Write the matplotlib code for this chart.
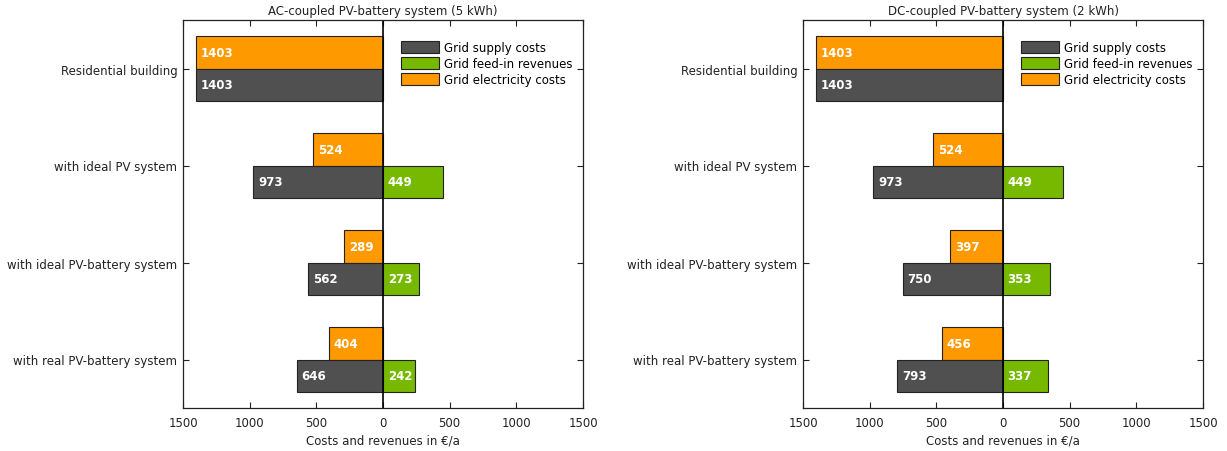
import matplotlib
matplotlib.use("Agg")
import matplotlib.pyplot as plt
from matplotlib.ticker import FuncFormatter
import numpy as np

plt.rcParams['font.family'] = ['DejaVu Sans']
plt.rcParams['font.size'] = 8.5

# Cell
categories = ["Residential building", "with ideal PV system",
              "with ideal PV-battery system", "with real PV-battery system"]
titles = ["AC-coupled PV-battery system (5 kWh)", "DC-coupled PV-battery system (2 kWh)"]
series_names = ["Grid supply costs", "Grid feed-in revenues", "Grid electricity costs"]

ac_supply = [1403, 973, 562, 646]
ac_feedin = [0, 449, 273, 242]
ac_costs = [1403, 524, 289, 404]

dc_supply = [1403, 973, 750, 793]
dc_feedin = [0, 449, 353, 337]
dc_costs = [1403, 524, 397, 456]

COLORS = ["#505050", "#76b900", "#ff9900"]
H = 0.33


def draw_panel(ax, supply, feedin, costs, title):
    y = np.arange(len(categories))
    edge = dict(edgecolor="#222222", linewidth=0.8)
    ax.barh(y - H / 2, [-c for c in costs], height=H, color=COLORS[2], **edge)
    ax.barh(y + H / 2, [-s for s in supply], height=H, color=COLORS[0], **edge)
    for i, f in enumerate(feedin):
        if f > 0:
            ax.barh(y[i] + H / 2, f, height=H, color=COLORS[1], **edge)
    txt = dict(color="white", fontweight="bold", va="center", ha="left", fontsize=8.5)
    for i in range(len(categories)):
        ax.text(-costs[i] + 35, y[i] - H / 2, str(costs[i]), **txt)
        ax.text(-supply[i] + 35, y[i] + H / 2, str(supply[i]), **txt)
        if feedin[i] > 0:
            ax.text(35, y[i] + H / 2, str(feedin[i]), **txt)
    ax.axvline(0, color="black", linewidth=1.2)
    ax.set_xlim(-1500, 1500)
    ax.set_ylim(len(categories) - 0.5, -0.5)
    ax.set_xticks(np.arange(-1500, 1501, 500))
    ax.xaxis.set_major_formatter(FuncFormatter(lambda v, p: f"{abs(int(v))}"))
    ax.set_yticks(y)
    ax.set_yticklabels(categories)
    ax.tick_params(direction="in", top=True, right=True, length=4, colors="#222222",
                   labelcolor="#222222")
    ax.tick_params(axis="x", pad=6)
    ax.tick_params(axis="y", pad=4)
    for s in ax.spines.values():
        s.set_color("#222222")
        s.set_linewidth(0.9)
    ax.set_title(title, fontsize=8.5, pad=4, color="#222222")
    ax.set_xlabel("Costs and revenues in €/a", color="#222222", labelpad=3)
    handles = [plt.Rectangle((0, 0), 1, 1, facecolor=c, edgecolor="#222222", linewidth=0.8)
               for c in COLORS]
    ax.legend(handles, series_names, loc="upper left", bbox_to_anchor=(0.525, 0.967),
              frameon=False, handlelength=3.2, handleheight=1.2, labelspacing=0.25,
              handletextpad=0.4, borderaxespad=0.3)


fig = plt.figure(figsize=(12.27, 4.52), dpi=100)
ax1 = fig.add_axes([183 / 1227, 1 - 409 / 452, 400 / 1227, 388 / 452])
ax2 = fig.add_axes([803 / 1227, 1 - 409 / 452, 400 / 1227, 388 / 452])
draw_panel(ax1, ac_supply, ac_feedin, ac_costs, titles[0])
draw_panel(ax2, dc_supply, dc_feedin, dc_costs, titles[1])
fig.savefig("out.png", dpi=100)
